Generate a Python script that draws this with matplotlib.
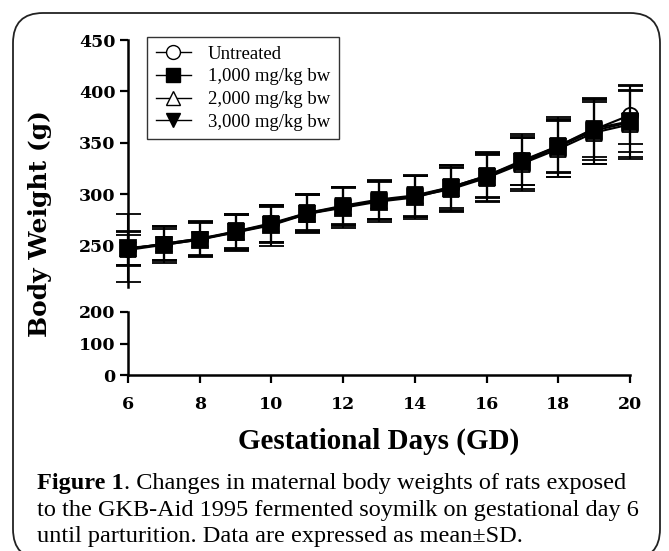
import matplotlib.pyplot as plt
import numpy as np
from matplotlib.patches import FancyBboxPatch
from matplotlib.lines import Line2D

plt.rcParams['font.family'] = 'Liberation Serif'

days = [6, 7, 8, 9, 10, 11, 12, 13, 14, 15, 16, 17, 18, 19, 20]

untreated = [247, 252, 257, 264, 272, 282, 288, 294, 298, 307, 318, 333, 347, 363, 377]
dose_1000 = [248, 251, 256, 263, 270, 281, 287, 293, 297, 306, 317, 331, 346, 362, 370]
dose_2000 = [247, 252, 257, 263, 271, 281, 288, 294, 298, 305, 316, 330, 344, 360, 368]
dose_3000 = [246, 251, 256, 264, 271, 282, 289, 295, 299, 307, 318, 332, 347, 364, 371]

sd_untreated = [16, 17, 17, 17, 18, 17, 18, 18, 20, 22, 22, 24, 26, 30, 28]
sd_1000 = [33, 18, 17, 18, 20, 19, 20, 20, 21, 23, 24, 28, 29, 32, 36]
sd_2000 = [17, 16, 16, 17, 18, 18, 19, 19, 20, 21, 22, 25, 27, 30, 32]
sd_3000 = [15, 15, 16, 16, 17, 18, 18, 19, 20, 20, 21, 23, 25, 28, 30]

labels = ['Untreated', '1,000 mg/kg bw', '2,000 mg/kg bw', '3,000 mg/kg bw']

upper_ticks = [250, 300, 350, 400, 450]
lower_ticks = [0, 100, 200]
x_ticks = [6, 8, 10, 12, 14, 16, 18, 20]

W, H = 669, 551
fig = plt.figure(figsize=(W / 100, H / 100), dpi=100)

def px_box(x0, y0, x1, y1):
    # pixel box (top-left origin) -> figure fraction rect
    return [x0 / W, 1 - y1 / H, (x1 - x0) / W, (y1 - y0) / H]

# broken y axis: two stacked axes sharing the day scale
ax_top = fig.add_axes(px_box(128, 40, 630, 287))
ax_bot = fig.add_axes(px_box(128, 312, 630, 375))

series = [
    (untreated, sd_untreated, 'o', 'white', 3),
    (dose_2000, sd_2000, '^', 'white', 4),
    (dose_3000, sd_3000, 'v', 'black', 5),
    (dose_1000, sd_1000, 's', 'black', 6),
]
for vals, sd, mk, fc, z in series:
    ax_top.errorbar(days, vals, yerr=sd, fmt='-', marker=mk, color='black',
                    mfc=fc, mec='black', ms=11, mew=1.3, lw=1.5,
                    elinewidth=1.5, capsize=9, capthick=1.6, zorder=z,
                    clip_on=False)

tick_font = dict(family='DejaVu Serif', weight='bold', size=12.5)

ax_top.set_ylim(210, 450)
ax_bot.set_ylim(0, 200)
for ax in (ax_top, ax_bot):
    ax.set_xlim(6, 20)
    ax.spines['top'].set_visible(False)
    ax.spines['right'].set_visible(False)
    ax.spines['left'].set_linewidth(1.8)
    ax.spines['bottom'].set_linewidth(1.8)
    ax.tick_params(direction='out', length=6, width=1.6, pad=3)

ax_top.spines['bottom'].set_visible(False)
ax_top.set_xticks([])
ax_top.set_yticks(upper_ticks)
ax_top.set_yticklabels([str(v) for v in upper_ticks], fontdict=tick_font)
ax_bot.set_yticks(lower_ticks)
ax_bot.set_yticklabels([str(v) for v in lower_ticks], fontdict=tick_font)
ax_bot.set_xticks(x_ticks)
ax_bot.set_xticklabels([str(v) for v in x_ticks], fontdict=tick_font)
ax_bot.tick_params(axis='x', pad=9)

handles = [
    Line2D([], [], color='black', marker='o', mfc='white', mec='black', ms=10, lw=1),
    Line2D([], [], color='black', marker='s', mfc='black', mec='black', ms=10, lw=1),
    Line2D([], [], color='black', marker='^', mfc='white', mec='black', ms=10, lw=1),
    Line2D([], [], color='black', marker='v', mfc='black', mec='black', ms=10, lw=1),
]
leg = ax_top.legend(handles, labels, loc='upper left', bbox_to_anchor=(0.038, 1.012),
                    borderaxespad=0, fancybox=False, frameon=True, edgecolor='black',
                    fontsize=13.5, handlelength=1.9, labelspacing=0.3, borderpad=0.45,
                    handletextpad=0.9)
leg.get_frame().set_linewidth(1.0)

fig.text(40 / W, 1 - 224 / H, 'Body Weight (g)', rotation=90, ha='center', va='center',
         family='DejaVu Serif', fontsize=18, fontweight='bold')
fig.text(379 / W, 1 - 441 / H, 'Gestational Days (GD)', ha='center', va='center',
         fontsize=21, fontweight='bold')

cap_lines = [
    'Changes in maternal body weights of rats exposed',
    'to the GKB-Aid 1995 fermented soymilk on gestational day 6',
    'until parturition. Data are expressed as mean\u00b1SD.',
]
cap_x = 37 / W
fig_head = fig.text(cap_x, 1 - 489 / H, 'Figure 1', ha='left', va='baseline',
                    fontsize=17.5, fontweight='bold')
fig.canvas.draw()
head_end = fig_head.get_window_extent().x1 / W
fig.text(head_end, 1 - 489 / H, '. ' + cap_lines[0], ha='left', va='baseline', fontsize=17.5)
fig.text(cap_x, 1 - 516 / H, cap_lines[1], ha='left', va='baseline', fontsize=17.5)
fig.text(cap_x, 1 - 542 / H, cap_lines[2], ha='left', va='baseline', fontsize=17.5)

box = FancyBboxPatch((0.13, -0.08), 6.47, 5.46, boxstyle='round,pad=0,rounding_size=0.3',
                     transform=fig.dpi_scale_trans, fill=False, edgecolor='#222222',
                     linewidth=1.3)
fig.patches.append(box)

fig.savefig('out.png', dpi=100)
